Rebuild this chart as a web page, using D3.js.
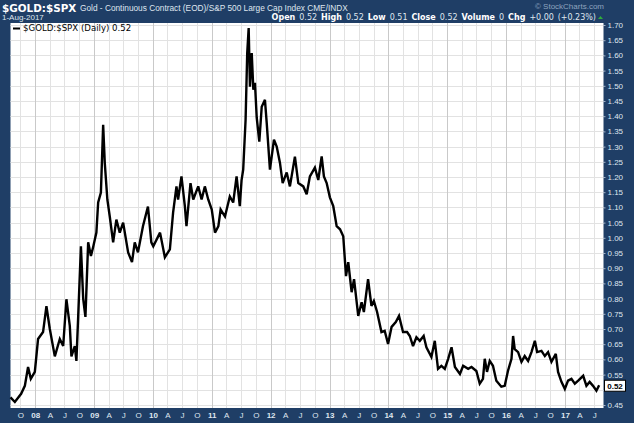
<!DOCTYPE html>
<html>
<head>
<meta charset="utf-8">
<script src="https://cdn.jsdelivr.net/npm/d3@7"></script>
<style>
  body { margin: 0; background: #1f3e66; }
  svg { display: block; }
</style>
</head>
<body>
<script>
var W = 634, H = 423
var plot = {left: 10.5, right: 603.5, top: 23, bottom: 408}

// $GOLD:$SPX weekly-ish readings
var dates = [
  "2007-08-01","2007-08-28","2007-10-06","2007-10-29","2007-11-18","2007-12-05","2007-12-30",
  "2008-01-19","2008-02-19","2008-03-11","2008-04-01","2008-05-02","2008-06-02","2008-06-23",
  "2008-07-13","2008-08-03","2008-08-13","2008-09-03","2008-09-13","2008-09-24","2008-10-11",
  "2008-10-25","2008-11-08","2008-11-25","2008-12-12","2008-12-26","2009-01-15","2009-01-26",
  "2009-02-12","2009-02-26","2009-03-08","2009-03-24","2009-04-08","2009-04-29","2009-05-19",
  "2009-06-09","2009-06-30","2009-07-31","2009-08-24","2009-09-10","2009-09-30","2009-10-31",
  "2009-12-01","2009-12-22","2010-01-03","2010-02-14","2010-03-16","2010-04-16","2010-05-06",
  "2010-05-27","2010-06-06","2010-06-27","2010-07-18","2010-07-28","2010-08-22","2010-09-08",
  "2010-10-09","2010-10-30","2010-11-19","2010-12-10","2011-01-01","2011-01-21","2011-02-11",
  "2011-02-25","2011-03-24","2011-04-23","2011-05-14","2011-06-04","2011-06-24","2011-07-05",
  "2011-07-15","2011-07-30","2011-08-09","2011-08-18","2011-08-26","2011-09-06","2011-09-16",
  "2011-09-26","2011-10-07","2011-10-23","2011-11-07","2011-11-27","2011-12-08","2011-12-28",
  "2012-01-22","2012-02-08","2012-02-28","2012-03-16","2012-04-10","2012-04-30","2012-05-31",
  "2012-06-21","2012-07-22","2012-08-12","2012-09-01","2012-10-02","2012-10-23","2012-11-13",
  "2012-11-27","2012-12-14","2013-01-03","2013-01-24","2013-02-14","2013-03-07","2013-03-27",
  "2013-04-13","2013-04-27","2013-05-18","2013-06-02","2013-06-28","2013-07-19","2013-08-02",
  "2013-08-28","2013-09-18","2013-10-03","2013-10-23","2013-11-19","2013-12-09","2013-12-30",
  "2014-01-21","2014-02-16","2014-03-08","2014-04-02","2014-04-27","2014-05-14","2014-06-03",
  "2014-06-24","2014-07-15","2014-08-08","2014-08-25","2014-09-25","2014-10-16","2014-11-05",
  "2014-11-26","2014-12-17","2015-01-07","2015-01-28","2015-02-18","2015-03-21","2015-04-10",
  "2015-05-11","2015-06-01","2015-07-01","2015-07-22","2015-08-11","2015-08-22","2015-09-05",
  "2015-09-22","2015-10-12","2015-11-02","2015-12-03","2015-12-24","2016-01-13","2016-02-04",
  "2016-02-14","2016-02-24","2016-03-16","2016-04-06","2016-04-26","2016-05-17","2016-06-07",
  "2016-06-28","2016-07-12","2016-08-08","2016-08-29","2016-09-18","2016-10-09","2016-11-05",
  "2016-11-19","2016-12-10","2016-12-31","2017-01-20","2017-02-10","2017-03-03","2017-03-24",
  "2017-04-24","2017-05-14","2017-06-03","2017-06-24","2017-07-15","2017-08-01"
]
var ratio = [
  0.475,0.46,0.487,0.513,0.575,0.536,0.559,
  0.667,0.69,0.775,0.70,0.61,0.667,0.644,
  0.798,0.71,0.61,0.644,0.595,0.74,0.972,
  0.80,0.74,0.985,0.94,0.97,1.017,1.116,
  1.149,1.372,1.247,1.126,1.07,0.985,1.06,
  1.017,1.05,0.952,0.92,0.985,0.952,1.038,
  1.103,0.985,0.972,1.017,0.936,0.962,1.083,
  1.169,1.126,1.202,1.104,1.038,1.18,1.126,
  1.169,1.126,1.169,1.126,1.093,1.017,1.038,
  1.093,1.07,1.136,1.116,1.202,1.104,1.19,
  1.224,1.389,1.608,1.69,1.497,1.608,1.487,
  1.51,1.395,1.316,1.431,1.454,1.378,1.224,
  1.323,1.30,1.247,1.18,1.215,1.169,1.267,
  1.18,1.169,1.143,1.202,1.231,1.19,1.268,
  1.202,1.18,1.133,1.104,1.038,1.028,1.005,
  0.874,0.92,0.821,0.864,0.743,0.788,0.756,
  0.864,0.776,0.792,0.756,0.69,0.694,0.651,
  0.707,0.723,0.743,0.69,0.69,0.677,0.644,
  0.673,0.661,0.677,0.64,0.608,0.661,0.569,
  0.579,0.569,0.602,0.64,0.575,0.552,0.579,
  0.569,0.575,0.562,0.52,0.536,0.602,0.559,
  0.595,0.579,0.53,0.51,0.513,0.562,0.602,
  0.677,0.634,0.624,0.592,0.611,0.595,0.624,
  0.661,0.624,0.628,0.611,0.624,0.592,0.618,
  0.559,0.526,0.503,0.53,0.536,0.52,0.53,
  0.546,0.513,0.526,0.513,0.497,0.515
]

var yTicks = [0.45,0.50,0.55,0.60,0.65,0.70,0.75,0.80,0.85,0.90,0.95,1.00,1.05,1.10,
              1.15,1.20,1.25,1.30,1.35,1.40,1.45,1.50,1.55,1.60,1.65,1.70]
var quarterLetters = {3: "A", 6: "J", 9: "O"}   // month index -> label, January shows the year

var parse = d3.timeParse("%Y-%m-%d")
var data = dates.map(function(d, i){ return {date: parse(d), value: ratio[i]} })
var last = data[data.length - 1]

var svg = d3.select("body").append("svg")
    .attr("width", W)
    .attr("height", H)
    .style("font-family", "'DejaVu Sans', Verdana, sans-serif")

svg.append("rect").attr("width", W).attr("height", H).attr("fill", "#1f3e66")

var x = d3.scaleTime()
    .domain([parse("2007-08-01"), parse("2017-08-28")])
    .range([plot.left, plot.right])

var y = d3.scaleLinear()
    .domain([0.45, 1.70])
    .range([405, 25])

// plot background
svg.append("rect")
    .attr("x", plot.left).attr("y", plot.top)
    .attr("width", plot.right - plot.left).attr("height", plot.bottom - plot.top)
    .attr("fill", "#ffffff")

var quarters = d3.timeMonth.every(3).range(parse("2007-10-01"), parse("2017-08-28"))

// grid
svg.append("g").selectAll("line").data(yTicks).join("line")
    .attr("x1", plot.left).attr("x2", plot.right)
    .attr("y1", function(d){ return Math.round(y(d)) + 0.5 })
    .attr("y2", function(d){ return Math.round(y(d)) + 0.5 })
    .attr("stroke", "#e2e2e2").attr("stroke-width", 1)

svg.append("g").selectAll("line").data(quarters).join("line")
    .attr("x1", function(d){ return Math.round(x(d)) + 0.5 })
    .attr("x2", function(d){ return Math.round(x(d)) + 0.5 })
    .attr("y1", plot.top).attr("y2", plot.bottom)
    .attr("stroke", function(d){ return d.getMonth() == 0 ? "#c9c9c9" : "#e2e2e2" })
    .attr("stroke-width", 1)

// price line
var line = d3.line()
    .x(function(d){ return x(d.date) })
    .y(function(d){ return y(d.value) })

svg.append("path")
    .datum(data)
    .attr("d", line)
    .attr("fill", "none")
    .attr("stroke", "#000")
    .attr("stroke-width", 2.4)
    .attr("stroke-linejoin", "miter")
    .attr("stroke-miterlimit", 3)

// right axis (the label hidden under the last-value tag is dropped, as in the original)
var yAxis = svg.append("g")
    .attr("transform", "translate(" + plot.right + ",0)")
    .call(d3.axisRight(y).tickValues(yTicks).tickSize(2).tickPadding(2)
        .tickFormat(function(d){ return Math.abs(y(d) - y(last.value)) < 8 ? "" : d3.format(".2f")(d) }))
yAxis.select(".domain").remove()
yAxis.selectAll("line").attr("stroke", "#9fb1c8")
yAxis.selectAll("text")
    .attr("fill", "#dfe6ef")
    .style("font-size", "8px")
    .style("font-family", "'Liberation Sans', Arial, sans-serif")

// bottom axis: quarter letters, bold two-digit year in January
var xAxis = svg.append("g")
    .attr("transform", "translate(0," + plot.bottom + ")")
    .call(d3.axisBottom(x).tickValues(quarters).tickSize(0).tickPadding(4)
        .tickFormat(function(d){
            return d.getMonth() == 0 ? d3.timeFormat("%y")(d) : quarterLetters[d.getMonth()]
        }))
xAxis.select(".domain").remove()
xAxis.selectAll("text")
    .attr("fill", "#dfe6ef")
    .style("font-size", "8px")
    .style("font-family", "'Liberation Sans', Arial, sans-serif")
    .style("font-weight", function(d){ return d.getMonth() == 0 ? "bold" : "normal" })

// last value tag
var tag = svg.append("g").attr("transform", "translate(" + (plot.right + 1) + "," + (y(last.value) + 1) + ")")
tag.append("rect")
    .attr("x", 0).attr("y", -6).attr("width", 21).attr("height", 11)
    .attr("fill", "#fff").attr("stroke", "#000").attr("stroke-width", 1)
tag.append("text")
    .attr("x", 10.5).attr("y", 3)
    .attr("text-anchor", "middle")
    .style("font-size", "8px").style("font-weight", "bold")
    .style("font-family", "'Liberation Sans', Arial, sans-serif")
    .text(d3.format(".2f")(last.value))

// header
svg.append("text")
    .attr("x", 2).attr("y", 12)
    .attr("fill", "#fff")
    .style("font-size", "10.4px").style("font-weight", "bold")
    .text("$GOLD:$SPX")

svg.append("text")
    .attr("x", 80).attr("y", 11)
    .attr("fill", "#dfe6ef")
    .style("font-size", "8.3px")
    .style("font-family", "'Liberation Sans', Arial, sans-serif")
    .text("Gold - Continuous Contract (EOD)/S&P 500 Large Cap Index  CME/INDX")

svg.append("text")
    .attr("x", 604).attr("y", 9)
    .attr("text-anchor", "end")
    .attr("fill", "#8ea3bf")
    .style("font-size", "8px")
    .style("font-family", "'Liberation Sans', Arial, sans-serif")
    .text("\u00a9 StockCharts.com")

svg.append("text")
    .attr("x", 2).attr("y", 20)
    .attr("fill", "#dfe6ef")
    .style("font-size", "8px")
    .style("font-family", "'Liberation Sans', Arial, sans-serif")
    .text("1-Aug-2017")

var quote = [["Open", "0.52"], ["High", "0.52"], ["Low", "0.51"], ["Close", "0.52"],
             ["Volume", "0"], ["Chg", "+0.00 (+0.23%)"]]
var qt = svg.append("text")
    .attr("x", 596).attr("y", 20)
    .attr("text-anchor", "end")
    .attr("fill", "#fff")
    .style("font-size", "8px")
    .style("word-spacing", "1.2px")
quote.forEach(function(q, i){
    qt.append("tspan").style("font-weight", "bold").text((i ? "  " : "") + q[0] + " ")
    qt.append("tspan").attr("fill", "#dfe6ef").text(q[1])
})
svg.append("path")
    .attr("d", "M598,19 L603,19 L600.5,16 Z")
    .attr("fill", "#2fae3a")

// legend
svg.append("line")
    .attr("x1", 13).attr("x2", 20).attr("y1", 28.5).attr("y2", 28.5)
    .attr("stroke", "#000").attr("stroke-width", 2)
svg.append("text")
    .attr("x", 23).attr("y", 31)
    .attr("fill", "#000")
    .style("font-size", "8.6px")
    .text("$GOLD:$SPX (Daily) 0.52")
</script>
</body>
</html>
